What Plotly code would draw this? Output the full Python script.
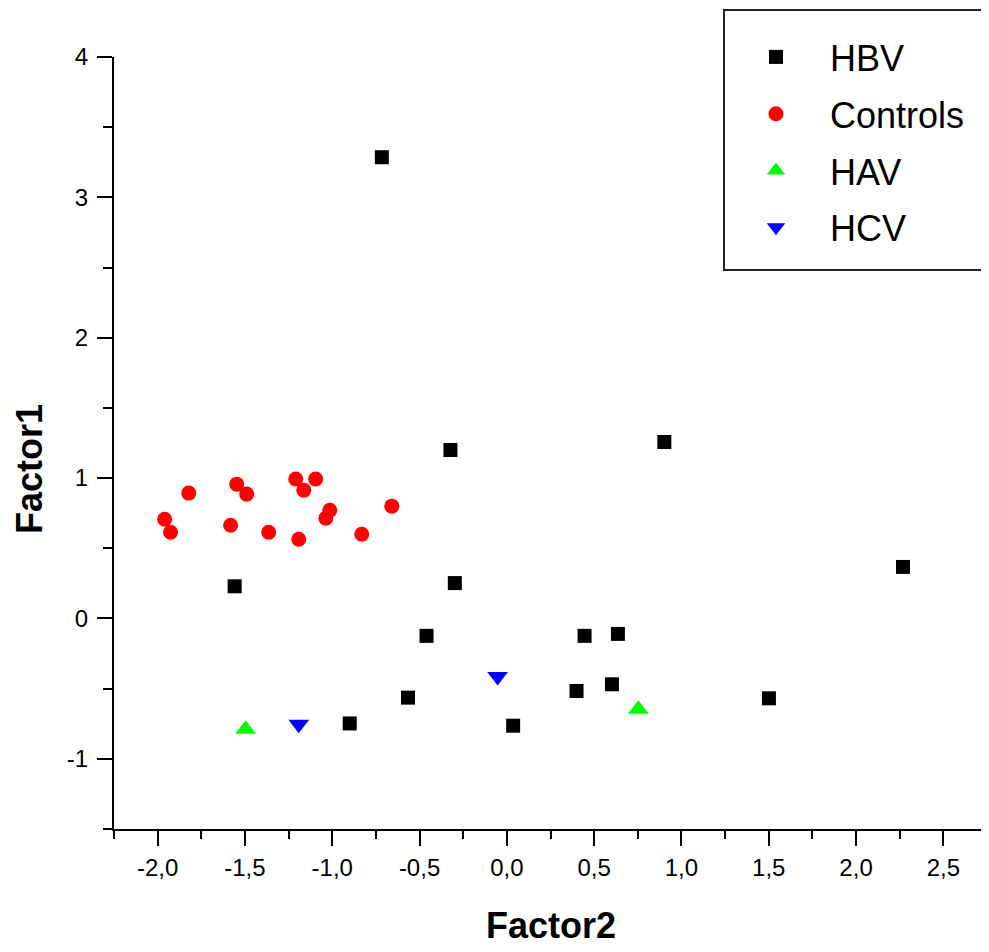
import plotly.graph_objects as go

# ---------------- data ----------------
hbv_x = [-0.716, -0.323, 0.902, -1.559, -0.298, 2.269, -0.460, 0.445, 0.636,
         -0.566, 0.399, 0.602, 1.501, -0.900, 0.036]
hbv_y = [3.286, 1.200, 1.257, 0.229, 0.252, 0.367, -0.124, -0.124, -0.110,
         -0.564, -0.517, -0.469, -0.569, -0.748, -0.764]

ctrl_x = [-1.960, -1.926, -1.822, -1.547, -1.490, -1.582, -1.364, -1.209,
          -1.163, -1.095, -1.192, -1.037, -1.014, -0.831, -0.659]
ctrl_y = [0.707, 0.614, 0.893, 0.957, 0.886, 0.664, 0.614, 0.993,
          0.914, 0.993, 0.564, 0.714, 0.771, 0.600, 0.800]

hav_x = [-1.496, 0.753]
hav_y = [-0.790, -0.646]

hcv_x = [-1.192, -0.053]
hcv_y = [-0.754, -0.414]

x_tickvals = [-2.0, -1.5, -1.0, -0.5, 0.0, 0.5, 1.0, 1.5, 2.0, 2.5]
x_ticktext = ["-2,0", "-1,5", "-1,0", "-0,5", "0,0", "0,5", "1,0", "1,5", "2,0", "2,5"]
y_tickvals = [-1, 0, 1, 2, 3, 4]
y_ticktext = ["-1", "0", "1", "2", "3", "4"]

FONT = "Liberation Sans, Arial, sans-serif"

# figure geometry (page has an 8px body margin)
W, H = 981, 944
L, R, T, B = 106, 2, 49, 123
PW = W - L - R
PH = H - T - B


def px_x(fx):
    return (fx - L) / PW


def px_y(fy):
    return (H - B - fy) / PH


fig = go.Figure()
fig.add_trace(go.Scatter(x=hbv_x, y=hbv_y, mode="markers", name="HBV", legendgroup="a",
                         marker=dict(symbol="square", size=14, color="black")))
fig.add_trace(go.Scatter(x=ctrl_x, y=ctrl_y, mode="markers", name="Controls", legendgroup="b",
                         marker=dict(symbol="circle", size=15, color="#ff0000")))
fig.add_trace(go.Scatter(x=hav_x, y=hav_y, mode="markers", name="HAV", legendgroup="c",
                         marker=dict(symbol="triangle-up", size=18, color="#00ff00")))
fig.add_trace(go.Scatter(x=hcv_x, y=hcv_y, mode="markers", name="HCV", legendgroup="d",
                         marker=dict(symbol="triangle-down", size=18, color="#0000ff")))

axis_common = dict(showgrid=False, zeroline=False, showline=True, linecolor="black",
                   linewidth=2, ticks="outside", tickcolor="black", tickwidth=2,
                   ticklen=15, tickfont=dict(family=FONT, size=24, color="black"))

fig.update_xaxes(range=[-2.25, 2.75], tickvals=x_tickvals, ticktext=x_ticktext,
                 minor=dict(ticks="outside", dtick=0.25, tick0=0, ticklen=8,
                            tickwidth=2, tickcolor="black"),
                 ticklabelstandoff=1, **axis_common)
fig.update_yaxes(range=[-1.5, 4], tickvals=y_tickvals, ticktext=y_ticktext,
                 minor=dict(ticks="outside", dtick=0.5, tick0=0, ticklen=9,
                            tickwidth=2, tickcolor="black"),
                 ticklabelstandoff=4, **axis_common)

fig.add_annotation(text="<b>Factor2</b>", xref="paper", yref="paper",
                   x=px_x(551 - 8), y=px_y(925 - 8), showarrow=False,
                   xanchor="center", yanchor="middle",
                   font=dict(family=FONT, size=36, color="black"))
fig.add_annotation(text="<b>Factor1</b>", xref="paper", yref="paper",
                   x=px_x(29 - 8), y=px_y(469 - 8), showarrow=False,
                   xanchor="center", yanchor="middle", textangle=-90,
                   font=dict(family=FONT, size=36, color="black"))

# legend frame (its right side runs past the picture edge, as in the reference)
fig.add_shape(type="rect", xref="paper", yref="paper",
              x0=px_x(724 - 8), x1=px_x(1000 - 8), y0=px_y(10 - 8), y1=px_y(270 - 8),
              line=dict(color="#222222", width=2), fillcolor="white", layer="above")

fig.update_layout(
    width=W, height=H,
    margin=dict(l=L, r=R, t=T, b=B),
    paper_bgcolor="white", plot_bgcolor="white",
    showlegend=True,
    legend=dict(x=px_x(722 - 8), y=px_y(27 - 8), xanchor="left", yanchor="top",
                bgcolor="rgba(0,0,0,0)", borderwidth=0,
                font=dict(family=FONT, size=36, color="black"),
                itemsizing="trace", itemwidth=98, tracegroupgap=7),
)

fig.write_html("out.html")
